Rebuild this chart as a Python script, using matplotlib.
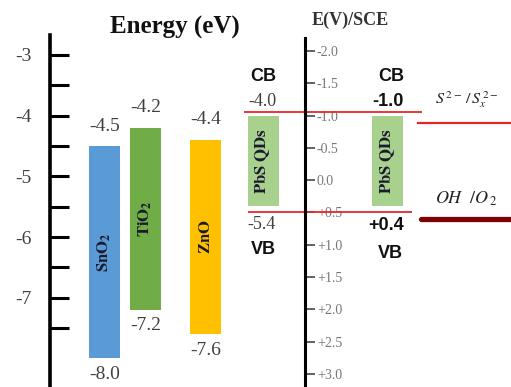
import numpy as np
import matplotlib.pyplot as plt

plt.rcParams['font.family'] = ['Liberation Serif', 'DejaVu Serif']
plt.rcParams['mathtext.fontset'] = 'stix'

# metal oxides: band edges in eV (vacuum scale)
oxide_names = [r'$\mathbf{SnO_2}$', r'$\mathbf{TiO_2}$', r'$\mathbf{ZnO}$']
oxide_cb = [-4.5, -4.2, -4.4]
oxide_vb = [-8.0, -7.2, -7.6]
oxide_colors = ['#5b9bd5', '#70ad47', '#ffc000']

# PbS QDs: eV scale and V vs SCE
pbs_cb_ev, pbs_vb_ev = -4.0, -5.4
pbs_cb_v, pbs_vb_v = -1.0, 0.4

# horizontal band-edge lines and redox couples (V vs SCE)
band_line_v = [-1.06, 0.49]
redox_labels = [r'$S^{\,2-}\,/\,S_x^{\,2-}$', r'$OH\ \ /O_{\,2}$']
redox_v = [-0.89, 0.60]

ev_ticks = [-3, -4, -5, -6, -7]
ev_minor = [-3.5, -4.5, -5.5, -6.5, -7.5]
v_ticks = np.arange(-2.0, 3.01, 0.5)

fig = plt.figure(figsize=(5.11, 3.87), dpi=100)
ax = fig.add_axes([0, 0, 1, 1])
ax.set_xlim(0, 511)
ax.set_ylim(-8.47, -2.094)

# left energy axis
for s in ['top', 'bottom', 'right']:
    ax.spines[s].set_visible(False)
ax.spines['left'].set_position(('data', 49.5))
ax.spines['left'].set_bounds(-8.47, -2.67)
ax.spines['left'].set_linewidth(2.6)
ax.set_xticks([])
ax.set_yticks(ev_ticks)
ax.set_yticklabels([str(t) for t in ev_ticks])
ax.set_yticks(ev_minor, minor=True)
ax.tick_params(axis='y', which='both', direction='in', length=14, width=2.2,
               color='black', labelsize=14, labelcolor='#404040', pad=13)

x_ox = [104.5, 145.5, 205.5]
heights = np.array(oxide_vb) - np.array(oxide_cb)
ax.bar(x_ox, heights, bottom=oxide_cb, width=31, color=oxide_colors)
for x, cb, vb, name in zip(x_ox, oxide_cb, oxide_vb, oxide_names):
    ax.annotate(f'{cb:.1f}', (x, cb), xytext=(0, 20), textcoords='offset pixels',
                ha='center', va='center', fontsize=14, color='#404040')
    ax.annotate(f'{vb:.1f}', (x, vb), xytext=(0, -16), textcoords='offset pixels',
                ha='center', va='center', fontsize=14, color='#404040')
    ax.text(x, (cb + vb) / 2, name, rotation=90, ha='center', va='center',
            fontsize=12, color='#1a1a2e')

# potential axis (V vs SCE)
ax2 = ax.twinx()
ax2.set_ylim(3.201, -2.789)
for s in ['top', 'bottom', 'left']:
    ax2.spines[s].set_visible(False)
ax2.spines['right'].set_position(('data', 305))
ax2.spines['right'].set_bounds(-2.2, 3.201)
ax2.spines['right'].set_linewidth(2.2)
ax2.set_yticks(v_ticks)
ax2.set_yticklabels(['0.0' if abs(v) < 1e-9 else f'{v:+.1f}' if v > 0 else f'{v:.1f}'
                     for v in v_ticks])
ax2.tick_params(axis='y', direction='out', length=7, width=1.3, color='#555555',
                labelsize=10, labelcolor='#777777', pad=1.5)

x_pbs = [263, 387.5]
ax2.bar(x_pbs, pbs_vb_v - pbs_cb_v, bottom=pbs_cb_v, width=31, color='#a9d18e')
for x in x_pbs:
    ax2.text(x, (pbs_cb_v + pbs_vb_v) / 2, r'$\mathbf{PbS\ QDs}$', rotation=90,
             ha='center', va='center', fontsize=12, color='#1a1a2e')

ax2.hlines(band_line_v, xmin=[244, 248], xmax=[422, 412], color='#e8262a', lw=1.3)
ax2.plot([418, 511], [redox_v[0]] * 2, color='#e8262a', lw=1.6)
ax2.plot([421, 511], [redox_v[1]] * 2, color='#7f0000', lw=3.8, solid_capstyle='round')
for lab, v, dy, fs in zip(redox_labels, redox_v, [23, 20], [11.5, 13]):
    ax2.annotate(lab, (419, v), xytext=(16, dy), textcoords='offset pixels',
                 ha='left', va='center', fontsize=fs, color='#222222',
                 annotation_clip=False)

sans = dict(family='Liberation Sans', fontweight='bold', fontsize=13, color='#111111')
# left PbS QDs: eV values
ax2.annotate('CB', (x_pbs[0], pbs_cb_v), xytext=(0, 39), textcoords='offset pixels',
             ha='center', va='center', **sans)
ax2.annotate(f'{pbs_cb_ev:.1f}', (x_pbs[0], pbs_cb_v), xytext=(-1, 14),
             textcoords='offset pixels', ha='center', va='center', fontsize=13,
             color='#404040')
ax2.annotate(f'{pbs_vb_ev:.1f}', (x_pbs[0], pbs_vb_v), xytext=(-2, -18),
             textcoords='offset pixels', ha='center', va='center', fontsize=13,
             color='#404040')
ax2.annotate('VB', (x_pbs[0], pbs_vb_v), xytext=(0, -43), textcoords='offset pixels',
             ha='center', va='center', **sans)
# right PbS QDs: V vs SCE values
ax2.annotate('CB', (x_pbs[1], pbs_cb_v), xytext=(4, 39), textcoords='offset pixels',
             ha='center', va='center', **sans)
ax2.annotate(f'{pbs_cb_v:.1f}', (x_pbs[1], pbs_cb_v), xytext=(0, 14),
             textcoords='offset pixels', ha='center', va='center', **sans)
ax2.annotate(f'{pbs_vb_v:+.1f}', (x_pbs[1], pbs_vb_v), xytext=(-1, -19),
             textcoords='offset pixels', ha='center', va='center', **sans)
ax2.annotate('VB', (x_pbs[1], pbs_vb_v), xytext=(3, -47), textcoords='offset pixels',
             ha='center', va='center', **sans)

fig.text(174.5 / 511, 1 - 27 / 387, 'Energy (eV)', ha='center', va='center',
         fontsize=18, fontweight='bold', color='#111111')
fig.text(350 / 511, 1 - 20 / 387, 'E(V)/SCE', ha='center', va='center',
         fontsize=13, fontweight='bold', color='#333333')

fig.savefig('out.png', dpi=100)
